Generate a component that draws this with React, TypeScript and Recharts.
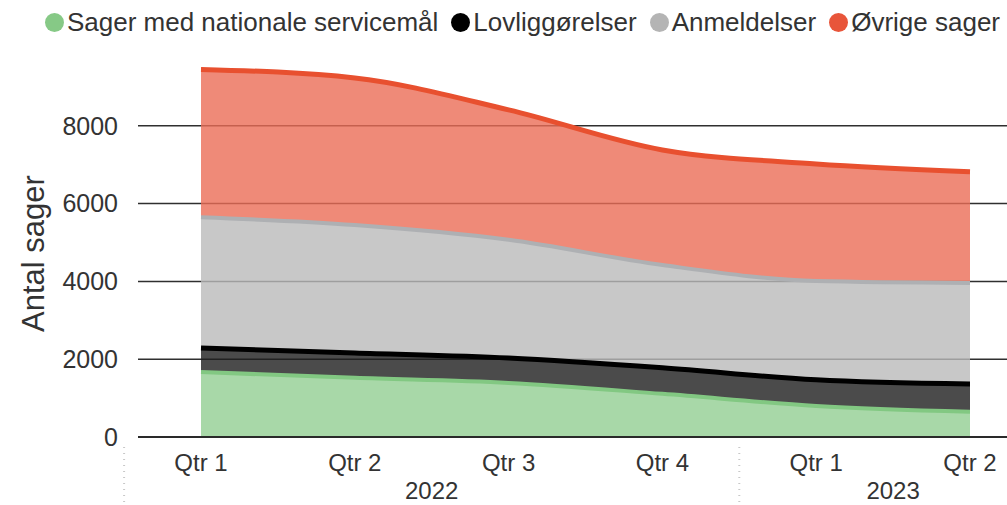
import { AreaChart, Area, XAxis, YAxis, CartesianGrid } from "recharts";

const quarters = ["Qtr 1", "Qtr 2", "Qtr 3", "Qtr 4", "Qtr 1", "Qtr 2"];
const years = ["2022", "2022", "2022", "2022", "2023", "2023"];

const servicemaal = [1670, 1520, 1390, 1110, 800, 650];
const lovliggoerelser = [620, 640, 640, 670, 670, 710];
const anmeldelser = [3360, 3290, 3040, 2640, 2540, 2600];
const oevrige = [3800, 3780, 3340, 2960, 3010, 2860];

const yTicks = [0, 2000, 4000, 6000, 8000];
const Y_MAX = 10000;

const data = quarters.map((q, i) => ({
  q,
  year: years[i],
  servicemaal: servicemaal[i],
  lovliggoerelser: lovliggoerelser[i],
  anmeldelser: anmeldelser[i],
  oevrige: oevrige[i],
}));

const series = [
  { key: "servicemaal", name: "Sager med nationale servicemål", fill: "#92ce92", stroke: "#82c882", dot: "#86c986", width: 4 },
  { key: "lovliggoerelser", name: "Lovliggørelser", fill: "#1e1e1e", stroke: "#000000", dot: "#000000", width: 5 },
  { key: "anmeldelser", name: "Anmeldelser", fill: "#bababa", stroke: "#aeb0b3", dot: "#b4b4b4", width: 4 },
  { key: "oevrige", name: "Øvrige sager", fill: "#eb6d56", stroke: "#e8502f", dot: "#e8553a", width: 5 },
];

const W = 1007;
const H = 505;
const LEFT = 138;
const PAD_L = 63;
const PAD_R = 37;
const STEP = (W - LEFT - PAD_L - PAD_R) / (quarters.length - 1);

const font = "'Liberation Sans', Arial, sans-serif";

function QuarterTick(props: any) {
  const { x, y, payload, index } = props;
  const i = index ?? payload.index;
  let yearLabel = null;
  if (i === 1 || i === 4) {
    yearLabel = (
      <text x={x + STEP / 2} y={y + 60} textAnchor="middle" fontSize={24} fill="#333" fontFamily={font}>
        {years[i]}
      </text>
    );
  }
  const seps: number[] = [];
  if (i === 0) seps.push(x - STEP / 2);
  if (i === 3) seps.push(x + STEP / 2);
  return (
    <g>
      <text x={x} y={y + 32} textAnchor="middle" fontSize={24} fill="#333" fontFamily={font}>
        {payload.value}
      </text>
      {yearLabel}
      {seps.map((sx) => (
        <line key={sx} x1={sx} x2={sx} y1={y + 8} y2={H} stroke="#c8c8c8" strokeDasharray="1 5" strokeWidth={2} />
      ))}
    </g>
  );
}

function LegendRow() {
  return (
    <div
      style={{
        position: "absolute",
        top: 7,
        left: 0,
        width: W,
        display: "flex",
        alignItems: "center",
        justifyContent: "flex-end",
        fontFamily: font,
        fontSize: 26,
        color: "#333",
        whiteSpace: "nowrap",
        paddingRight: 7,
        boxSizing: "border-box",
        zIndex: 2,
      }}
    >
      {series.map((s) => (
        <div key={s.key} style={{ display: "flex", alignItems: "center", marginLeft: 13 }}>
          <span
            style={{
              display: "inline-block",
              width: 19,
              height: 19,
              borderRadius: "50%",
              background: s.dot,
              marginRight: 3,
            }}
          />
          <span>{s.name}</span>
        </div>
      ))}
    </div>
  );
}

export default function App() {
  return (
    <div style={{ width: W, height: H, background: "#fff", position: "relative" }}>
      <style>{`body{margin:0}`}</style>
      <LegendRow />
      <AreaChart width={W} height={H} data={data} margin={{ top: 48, right: 0, bottom: 0, left: 0 }}>
        <CartesianGrid
          vertical={false}
          stroke="#2f2f2f"
          strokeWidth={1.5}
          horizontalCoordinatesGenerator={({ offset }: any) =>
            yTicks.map((t) => offset.top + offset.height * (1 - t / Y_MAX))
          }
        />
        <XAxis
          dataKey="q"
          allowDuplicatedCategory
          padding={{ left: PAD_L, right: PAD_R }}
          axisLine={{ stroke: "#2a2a2a", strokeWidth: 2 }}
          tickLine={false}
          tickSize={0}
          interval={0}
          tick={<QuarterTick />}
          height={68}
        />
        <YAxis
          width={LEFT}
          domain={[0, Y_MAX]}
          ticks={yTicks}
          axisLine={false}
          tickLine={false}
          tickSize={0}
          tickMargin={20}
          tick={{ fontSize: 25, fill: "#333", fontFamily: font }}
          label={{
            content: (p: any) => {
              const vb = p.viewBox;
              const cy = vb.y + vb.height / 2 + 11;
              return (
                <text
                  x={33}
                  y={cy}
                  transform={`rotate(-90 33 ${cy})`}
                  textAnchor="middle"
                  dominantBaseline="central"
                  fontSize={31}
                  fill="#333"
                  fontFamily={font}
                >
                  Antal sager
                </text>
              );
            },
          }}
        />
        {/* fills first, then the outlines in a second stack so no fill covers a line */}
        {series.map((s) => (
          <Area
            key={s.key}
            type="monotone"
            dataKey={s.key}
            name={s.name}
            stackId="fill"
            fill={s.fill}
            fillOpacity={0.8}
            stroke="none"
            isAnimationActive={false}
            dot={false}
            activeDot={false}
          />
        ))}
        {series.map((s) => (
          <Area
            key={s.key + "-line"}
            type="monotone"
            dataKey={s.key}
            stackId="line"
            fill="none"
            stroke={s.stroke}
            strokeWidth={s.width}
            isAnimationActive={false}
            dot={false}
            activeDot={false}
          />
        ))}
      </AreaChart>
    </div>
  );
}
